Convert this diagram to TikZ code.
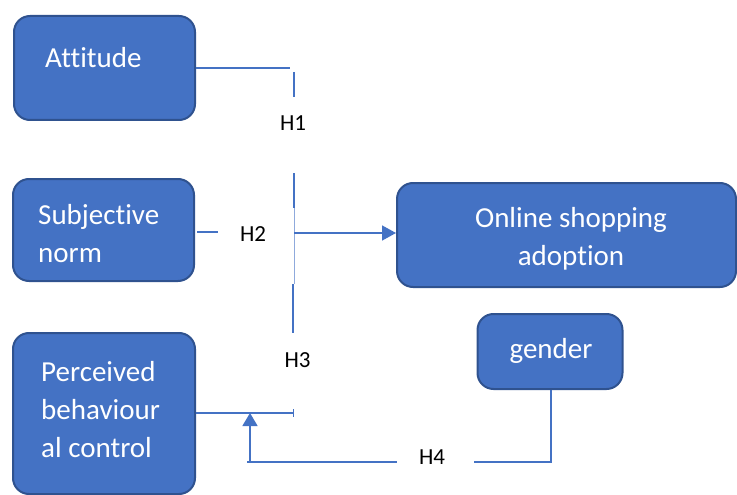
\documentclass[tikz,border=0pt]{standalone}
\usepackage{fontspec}
\setmainfont{Carlito}[Ligatures=NoCommon]
\usetikzlibrary{arrows.meta}
\definecolor{fillblue}{HTML}{4472C4}
\definecolor{edgeblue}{HTML}{2F528F}
\definecolor{lineblue}{HTML}{4472C4}
\definecolor{lightline}{HTML}{8FAADC}
\begin{document}
\begin{tikzpicture}[x=1pt,y=-1pt,
  box/.style={draw=edgeblue, fill=fillblue, line width=2pt, rounded corners=16pt, inner sep=0pt},
  boxtext/.style={text=white, font=\fontsize{29}{38}\selectfont, align=left, inner sep=0pt},
  hlabel/.style={font=\fontsize{23}{27}\selectfont, inner sep=0pt},
  conn/.style={draw=lineblue, line width=1.5pt},
  faint/.style={draw=lightline, line width=1pt}]
\useasboundingbox (0,0) rectangle (737,495);

% boxes
\node[box, minimum width=181pt, minimum height=104pt] (att) at (104.5,68) {};
\node[boxtext, anchor=base west] (attt) at (45,67) {Attitude};

\node[box, minimum width=181pt, minimum height=102pt] (sn) at (103.5,230) {};
\node[boxtext, anchor=base west] (snt) at (38,262) {Subjective\\norm};

\node[box, minimum width=182pt, minimum height=161pt] (pbc) at (104,413.5) {};
\node[boxtext, anchor=base west] (pbct) at (41,457) {Perceived\\behaviour\\al control};

\node[box, minimum width=339pt, minimum height=104pt] (osa) at (566.5,235) {};
\node[boxtext, align=center, anchor=base] (osat) at (571,265) {Online shopping\\adoption};

\node[box, minimum width=145pt, minimum height=75pt] (gen) at (550,351.5) {};
\node[boxtext, anchor=base] (gent) at (551,358) {gender};

% hypothesis labels
\node[hlabel] (h1) at (293,123.5) {H1};
\node[hlabel] (h2) at (253,234.5) {H2};
\node[hlabel] (h3) at (297.5,360) {H3};
\node[hlabel] (h4) at (432,457.5) {H4};

% connector coordinates
\coordinate (a1) at (290,68);
\coordinate (v1a) at (294,72);
\coordinate (v1b) at (294,97);
\coordinate (v2a) at (294,173);
\coordinate (v2b) at (294,208);
\coordinate (v2c) at (294,284);
\coordinate (v3b) at (293,333);
\coordinate (s1) at (197,232);
\coordinate (s2) at (218,232);
\coordinate (j2) at (294,233);
\coordinate (p1) at (294,413);
\coordinate (u1) at (250,462);
\coordinate (u2) at (250,413);
\coordinate (b1) at (247,462);
\coordinate (b2) at (397,462);
\coordinate (b3) at (474,462);
\coordinate (g1) at (551,462);

% connectors
\draw[conn] (att.east |- a1) -- (a1);
\draw[conn] (v1a) -- (v1b);
\draw[conn] (v2a) -- (v2b);
\draw[faint] (v2b) -- (v2c);
\draw[conn] (v2c -| v3b) -- (v3b);
\draw[conn] (s1) -- (s2);
\draw[conn, -{Triangle[width=15pt,length=14pt]}] (j2) -- (osa.west |- j2);
\draw[conn, -{Bar[width=8pt]}] (pbc.east |- p1) -- (p1);
\draw[conn, -{Triangle[width=15pt,length=13pt]}] (u1) -- (u2);
\draw[conn] (b1) -- (b2);
\draw[conn] (b3) -- (g1) -- (g1 |- gen.south);
\end{tikzpicture}
\end{document}
